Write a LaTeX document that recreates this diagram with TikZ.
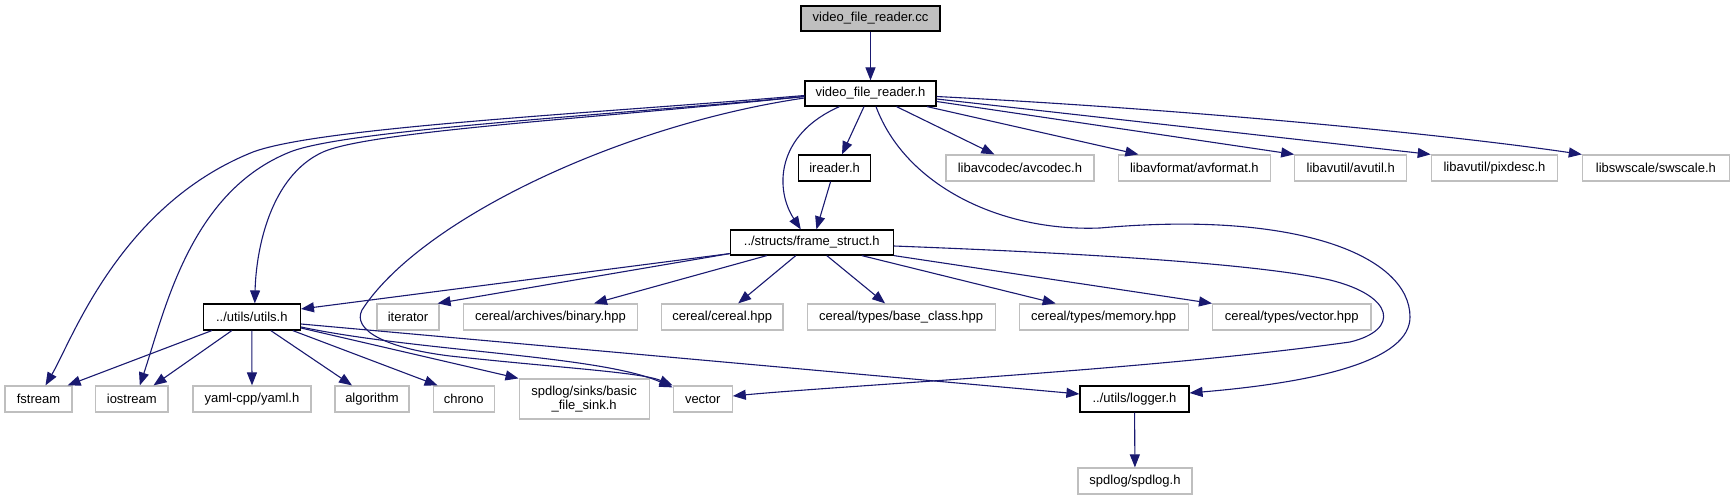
\documentclass[tikz,border=0pt]{standalone}
\usepackage{fontspec}
\setmainfont{Liberation Sans}
\usetikzlibrary{arrows.meta}
\definecolor{edgec}{HTML}{191970}
\definecolor{greyb}{HTML}{BFBFBF}
\begin{document}
\begin{tikzpicture}[x=1pt,y=-1pt,
  every node/.style={font=\fontsize{13}{14.5}\selectfont, inner sep=0pt, minimum height=26pt, anchor=center},
  ibox/.style={draw=black, line width=1.2pt},
  ebox/.style={draw=greyb, line width=1.2pt},
  dep/.style={draw=edgec, line width=1.1pt, -{Triangle[length=13pt,width=10pt]}}]
\useasboundingbox (0,0) rectangle (1735,500);
% row 0/1
\node[ibox, fill=greyb, minimum width=139pt, minimum height=25pt] (cc) at (870.5,18.5) {video\_file\_reader.cc};
\node[ibox, minimum width=131pt, minimum height=25pt] (vfr) at (870.5,93.5) {video\_file\_reader.h};
% row 2
\node[ibox, minimum width=72.4pt] (ireader) at (834.6,168) {ireader.h};
\node[ebox, minimum width=148pt] (avcodec) at (1019.9,168) {libavcodec/avcodec.h};
\node[ebox, minimum width=152.3pt] (avformat) at (1194.4,168) {libavformat/avformat.h};
\node[ebox, minimum width=111.8pt] (avutil) at (1350.7,168) {libavutil/avutil.h};
\node[ebox, minimum width=126.4pt] (pixdesc) at (1494.5,168) {libavutil/pixdesc.h};
\node[ebox, minimum width=147pt] (swscale) at (1655.9,168) {libswscale/swscale.h};
% row 3
\node[ibox, minimum width=163pt, minimum height=25pt] (fs) at (811.8,242.5) {../structs/frame\_struct.h};
% row 4
\node[ibox, minimum width=97.2pt] (utils) at (251.8,317) {../utils/utils.h};
\node[ebox, minimum width=62pt] (iterator) at (408,317) {iterator};
\node[ebox, minimum width=174.3pt] (binary) at (550.5,317) {cereal/archives/binary.hpp};
\node[ebox, minimum width=121.7pt] (cereal) at (722.2,317) {cereal/cereal.hpp};
\node[ebox, minimum width=188pt] (baseclass) at (901.1,317) {cereal/types/base\_class.hpp};
\node[ebox, minimum width=169pt] (memory) at (1103.7,317) {cereal/types/memory.hpp};
\node[ebox, minimum width=158.4pt] (vectorhpp) at (1291.8,317) {cereal/types/vector.hpp};
% row 5
\node[ebox, minimum width=67pt] (fstream) at (38.5,399) {fstream};
\node[ebox, minimum width=72.3pt] (iostream) at (131.8,399) {iostream};
\node[ebox, minimum width=118pt] (yaml) at (252,399) {yaml-cpp/yaml.h};
\node[ebox, minimum width=74pt] (algorithm) at (372,399) {algorithm};
\node[ebox, minimum width=61.2pt] (chrono) at (463.8,399) {chrono};
\node[ebox, minimum width=130pt, minimum height=40pt, align=center] (sinks) at (584.1,399) {spdlog/sinks/basic\\\_file\_sink.h};
\node[ebox, minimum width=59pt] (vector) at (702.7,399) {vector};
\node[ibox, minimum width=109pt] (logger) at (1134.5,399) {../utils/logger.h};
% row 6
\node[ebox, minimum width=114pt] (spdlog) at (1135,481) {spdlog/spdlog.h};

% edges
\draw[dep] (cc) -- (vfr);
\draw[dep] ([yshift=-2pt]vfr.west) .. controls (600,113) and (320,127) .. (253,152) .. controls (120,205) and (72,340) .. ([xshift=7pt]fstream.north);
\draw[dep] ([yshift=-3pt]vfr.west) .. controls (600,116) and (345,130) .. (290,152) .. controls (190,192) and (165,310) .. ([xshift=8pt]iostream.north);
\draw[dep] ([yshift=-3pt]vfr.west) .. controls (600,118) and (370,131) .. (323,152) .. controls (270,176) and (256,250) .. ([xshift=3pt]utils.north);
\draw[dep] ([yshift=-4.5pt]vfr.west) .. controls (620,125) and (420,220) .. (362,310) .. controls (352,330) and (385,348) .. (450,356) .. controls (560,368) and (640,372) .. (vector.north west);
\draw[dep] ([xshift=-31pt]vfr.south) .. controls (775,135) and (775,190) .. ([xshift=-11pt]fs.north);
\draw[dep] ([xshift=-6.5pt]vfr.south) -- ([xshift=7.4pt]ireader.north);
\draw[dep] ([xshift=26pt]vfr.south) -- ([xshift=-25.5pt]avcodec.north);
\draw[dep] ([xshift=56.5pt]vfr.south) -- ([xshift=-56pt]avformat.north);
\draw[dep] ([yshift=-8pt]vfr.east) -- (avutil.north west);
\draw[dep] ([yshift=-5.5pt]vfr.east) -- (pixdesc.north west);
\draw[dep] ([yshift=-3pt]vfr.east) .. controls (1200,110) and (1450,135) .. (swscale.north west);
\draw[dep] ([xshift=5.5pt]vfr.south) .. controls (905,185) and (1000,232) .. (1100,228) .. controls (1300,210) and (1410,257) .. (1410,317) .. controls (1410,360) and (1320,382) .. ([yshift=6pt]logger.east);
\draw[dep] ([xshift=-4pt]ireader.south) -- ([xshift=4.6pt]fs.north);
% frame_struct
\draw[dep] ([yshift=2pt]fs.south west) -- ([yshift=8pt]utils.east);
\draw[dep] ([yshift=2pt]fs.south west) -- ([xshift=-2pt]iterator.north east);
\draw[dep] ([xshift=-45pt]fs.south) -- ([xshift=43.5pt]binary.north);
\draw[dep] ([xshift=-16pt]fs.south) -- ([xshift=16pt]cereal.north);
\draw[dep] ([xshift=15pt]fs.south) -- ([xshift=-16pt]baseclass.north);
\draw[dep] ([xshift=50pt]fs.south) -- ([xshift=-48pt]memory.north);
\draw[dep] (fs.south east) -- (vectorhpp.north west);
\draw[dep] ([yshift=-3.5pt]fs.east) .. controls (1050,252) and (1250,262) .. (1330,280) .. controls (1395,296) and (1400,330) .. (1350,342) .. controls (1150,370) and (850,385) .. ([yshift=3pt]vector.east);
% utils
\draw[dep] ([xshift=-40pt]utils.south) -- ([xshift=-5pt]fstream.north east);
\draw[dep] ([xshift=-20pt]utils.south) -- ([xshift=-15pt]iostream.north east);
\draw[dep] (utils.south) -- (yaml.north);
\draw[dep] ([xshift=19pt]utils.south) -- ([xshift=-20pt]algorithm.north);
\draw[dep] ([xshift=41pt]utils.south) -- ([xshift=5pt]chrono.north west);
\draw[dep] ([yshift=-11pt]utils.east) -- (sinks.north west);
\draw[dep] ([yshift=-10pt]utils.east) .. controls (420,352) and (600,355) .. ([yshift=-2pt]vector.north west);
\draw[dep] ([yshift=-7pt]utils.east) -- ([yshift=5pt]logger.west);
% logger
\draw[dep] (logger) -- (spdlog);
\end{tikzpicture}
\end{document}
